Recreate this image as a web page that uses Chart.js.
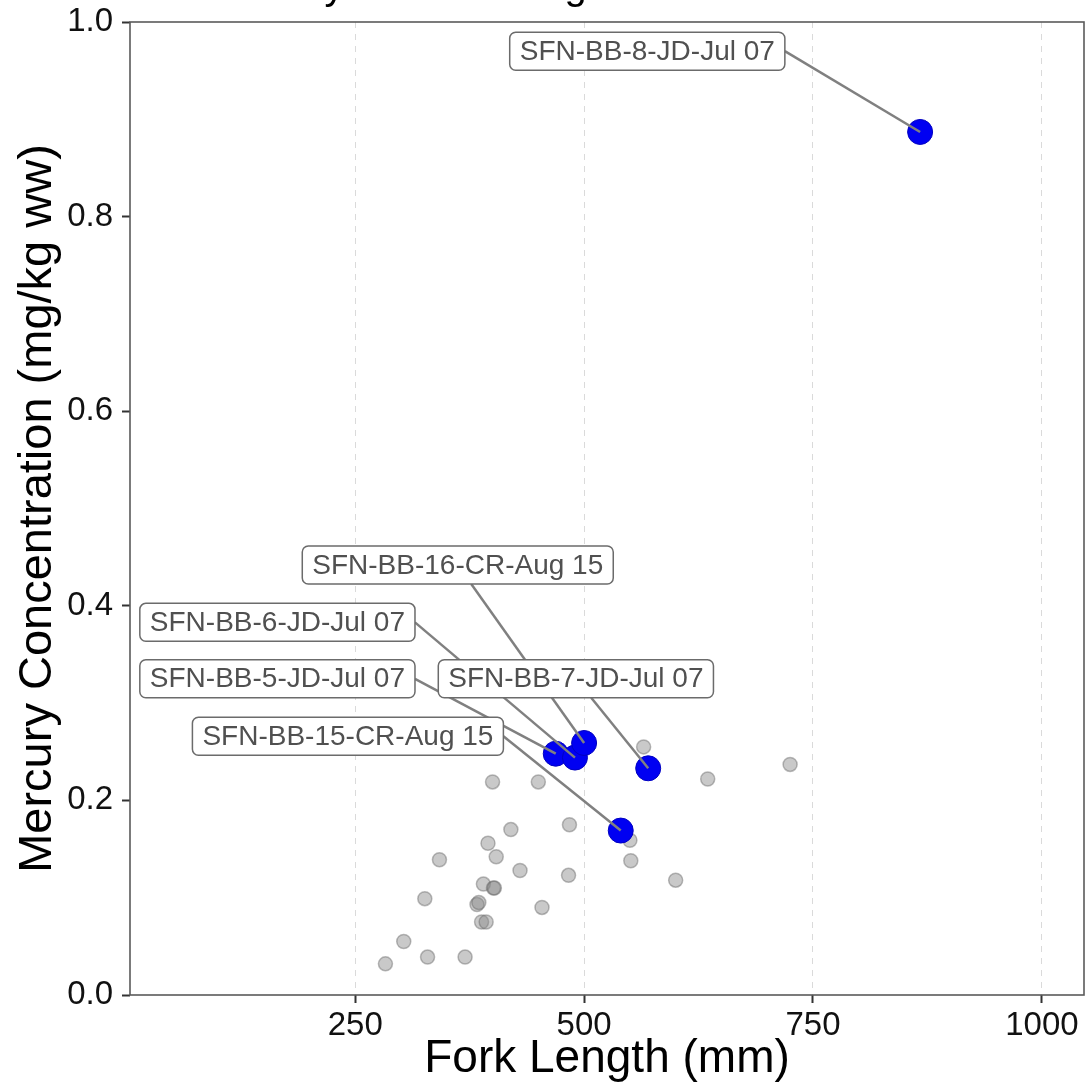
<!DOCTYPE html>
<html>
<head>
<meta charset="utf-8">
<script src="https://cdn.jsdelivr.net/npm/chart.js@4/dist/chart.umd.min.js"></script>
<style>
  html, body { margin: 0; padding: 0; background: #fff; }
  #hgChart { display: block; }
</style>
</head>
<body>
<canvas id="hgChart" width="1088" height="1091"></canvas>
<script>
// ── data ──
const otherLength = [400, 450, 565, 635, 420, 484, 395, 342, 404, 430, 483, 550, 551, 600,
  390, 401, 402, 326, 383, 385, 454, 388, 393, 303, 329, 370, 283, 725];
const otherHg = [0.219, 0.219, 0.255, 0.222, 0.170, 0.175, 0.156, 0.139, 0.142, 0.128, 0.123, 0.159, 0.138, 0.118,
  0.114, 0.110, 0.110, 0.099, 0.093, 0.095, 0.090, 0.075, 0.075, 0.055, 0.039, 0.039, 0.032, 0.237];

const fishIds = ['SFN-BB-5-JD-Jul 07', 'SFN-BB-6-JD-Jul 07', 'SFN-BB-16-CR-Aug 15',
  'SFN-BB-7-JD-Jul 07', 'SFN-BB-15-CR-Aug 15', 'SFN-BB-8-JD-Jul 07'];
const fishLength = [469, 490, 500, 570, 540, 867];
const fishHg = [0.248, 0.244, 0.259, 0.233, 0.169, 0.887];
// where the repelled label boxes sit (data units)
const labelLength = [165, 165, 362, 491, 242, 569];
const labelHg = [0.325, 0.383, 0.442, 0.325, 0.266, 0.970];

const xTicks = [250, 500, 750, 1000];
const yTicks = [0, 0.2, 0.4, 0.6, 0.8, 1.0];

const FONT = '"Liberation Sans", Arial, Helvetica, sans-serif';

// labels + segments, ggrepel style
const repelLabels = {
  id: 'repelLabels',
  afterDatasetsDraw(chart) {
    const { ctx, scales: { x, y } } = chart;
    ctx.save();
    ctx.font = '28px ' + FONT;
    const boxes = fishIds.map((name, i) => {
      const cx = x.getPixelForValue(labelLength[i]);
      const cy = y.getPixelForValue(labelHg[i]);
      const w = ctx.measureText(name).width + 20;
      const h = 38;
      return { name, cx, cy, l: cx - w / 2, r: cx + w / 2, t: cy - h / 2, b: cy + h / 2,
        px: x.getPixelForValue(fishLength[i]), py: y.getPixelForValue(fishHg[i]) };
    });

    ctx.strokeStyle = '#808080';
    ctx.lineWidth = 2.5;
    boxes.forEach(bx => {
      let sx, sy;
      if (bx.px > bx.r) { sx = bx.r; sy = bx.cy; }
      else if (bx.px < bx.l) { sx = bx.l; sy = bx.cy; }
      else {
        sy = bx.py > bx.cy ? bx.b : bx.t;
        sx = bx.cx + (bx.px - bx.cx) * (sy - bx.cy) / (bx.py - bx.cy);
      }
      ctx.beginPath();
      ctx.moveTo(sx, sy);
      ctx.lineTo(bx.px, bx.py);
      ctx.stroke();
    });

    boxes.forEach(bx => {
      ctx.beginPath();
      ctx.roundRect(bx.l, bx.t, bx.r - bx.l, bx.b - bx.t, 6);
      ctx.fillStyle = '#fff';
      ctx.fill();
      ctx.strokeStyle = '#6b6b6b';
      ctx.lineWidth = 1.5;
      ctx.stroke();
      ctx.fillStyle = '#505050';
      ctx.textAlign = 'center';
      ctx.textBaseline = 'middle';
      ctx.fillText(bx.name, bx.cx, bx.cy + 1);
    });
    ctx.restore();
  },
  afterDraw(chart) {
    const { ctx, chartArea: a } = chart;
    ctx.save();
    ctx.strokeStyle = '#5a5a5a';
    ctx.lineWidth = 1.6;
    ctx.strokeRect(a.left, a.top, a.right - a.left, a.bottom - a.top);
    // title, mostly cut off by the top edge
    ctx.fillStyle = '#000';
    ctx.font = '40px ' + FONT;
    ctx.textAlign = 'left';
    ctx.textBaseline = 'alphabetic';
    ctx.fillText('Mercury vs Fork Length', 200, -1);
    ctx.restore();
  },
};

new Chart(document.getElementById('hgChart'), {
  type: 'scatter',
  data: {
    datasets: [
      {
        label: 'Labelled fish',
        data: fishLength.map((v, i) => ({ x: v, y: fishHg[i] })),
        backgroundColor: '#0000f2',
        borderColor: '#0000c0',
        borderWidth: 1,
        pointRadius: 12.5,
        order: 0,
      },
      {
        label: 'Other fish',
        data: otherLength.map((v, i) => ({ x: v, y: otherHg[i] })),
        backgroundColor: 'rgba(135,135,135,0.45)',
        borderColor: 'rgba(105,105,105,0.45)',
        borderWidth: 1.5,
        pointRadius: 7,
        order: 1,
      },
    ],
  },
  options: {
    responsive: false,
    animation: false,
    devicePixelRatio: 1,
    layout: { autoPadding: false, padding: { top: 22, right: 4, left: 0, bottom: 0 } },
    plugins: { legend: { display: false }, tooltip: { enabled: false } },
    scales: {
      x: {
        type: 'linear',
        min: 4,
        max: 1046,
        afterBuildTicks: s => { s.ticks = xTicks.map(v => ({ value: v })); },
        afterFit: s => { s.height = 96; s.paddingLeft = 0; s.paddingRight = 0; },
        ticks: { font: { family: FONT, size: 33 }, color: '#111', padding: 3, maxRotation: 0, callback: v => String(v) },
        grid: { color: '#dadada', lineWidth: 1, tickColor: '#333', tickLength: 8, tickWidth: 2 },
        border: { display: false, dash: [6, 6] },
        title: { display: true, text: 'Fork Length (mm)', font: { family: FONT, size: 46 }, color: '#000',
          padding: { top: 0, bottom: 4 } },
      },
      y: {
        min: 0,
        max: 1,
        afterBuildTicks: s => { s.ticks = yTicks.map(v => ({ value: v })); },
        afterFit: s => { s.width = 130; s.paddingTop = 0; s.paddingBottom = 0; },
        ticks: { font: { family: FONT, size: 33 }, color: '#111', padding: 9, callback: v => v.toFixed(1) },
        grid: { drawOnChartArea: false, tickColor: '#333', tickLength: 8, tickWidth: 2 },
        border: { display: false },
        title: { display: true, text: 'Mercury Concentration (mg/kg ww)', font: { family: FONT, size: 47 }, color: '#000',
          padding: { top: 10, bottom: 0 } },
      },
    },
  },
  plugins: [repelLabels],
});
</script>
</body>
</html>
